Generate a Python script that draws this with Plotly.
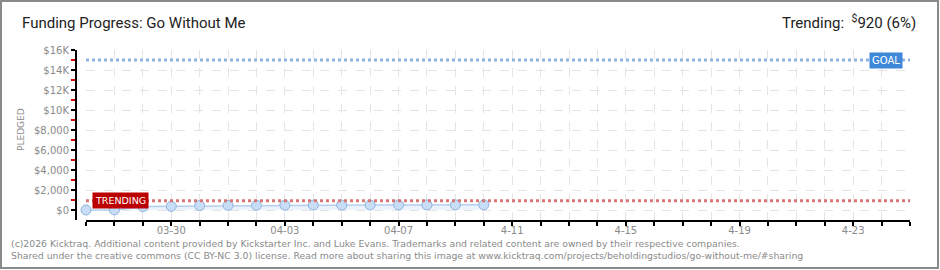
import plotly.graph_objects as go
from datetime import date, timedelta

# ---- data ----
dates = ["2026-03-27", "2026-03-28", "2026-03-29", "2026-03-30", "2026-03-31",
         "2026-04-01", "2026-04-02", "2026-04-03", "2026-04-04", "2026-04-05",
         "2026-04-06", "2026-04-07", "2026-04-08", "2026-04-09", "2026-04-10"]
pledged = [0, 10, 340, 360, 450, 460, 470, 480, 490, 495, 500, 505, 510, 515, 520]
goal = 15000
trending = 920
y_tickvals = [0, 2000, 4000, 6000, 8000, 10000, 12000, 14000, 16000]
y_ticktext = ["$0", "$2,000", "$4,000", "$6,000", "$8,000", "$10K", "$12K", "$14K", "$16K"]
y_minor = [1000, 3000, 5000, 7000, 9000, 11000, 13000, 15000]
x_start = "2026-03-27"
x_end = "2026-04-25"
x_labels = {"2026-03-30": "03-30", "2026-04-03": "04-03", "2026-04-07": "04-07",
            "2026-04-11": "4-11", "2026-04-15": "4-15", "2026-04-19": "4-19",
            "2026-04-23": "4-23"}

# all day ticks
d0 = date(2026, 3, 27)
d1 = date(2026, 4, 25)
all_days = []
d = d0
while d <= d1:
    all_days.append(d.isoformat())
    d += timedelta(days=1)
x_ticktext = [x_labels.get(s, "") for s in all_days]

W, H = 940, 270
L, R, T, B = 70, 30, 50, 50
PW = W - L - R
PH = H - T - B
def px(xp):
    return (xp - L) / PW
def py(yp):
    return 1 - (yp - T) / PH

FONT = "DejaVu Sans"
TFONT = "Roboto"
GRAY = "#8a8a8a"

fig = go.Figure()
fig.add_trace(go.Scatter(
    x=dates, y=pledged, mode="lines+markers",
    line=dict(color="#b4d0f0", width=1.5),
    marker=dict(size=10, color="#c8ddf6", line=dict(color="#8fb3dd", width=1)),
    fill="tozeroy", fillcolor="rgba(200,220,245,0.35)",
    hoverinfo="skip", showlegend=False, cliponaxis=False,
))

# goal & trending lines
fig.add_shape(type="line", xref="x", yref="y", x0=x_start, x1=x_end, y0=goal, y1=goal,
              line=dict(color="#8fb3dd", width=3, dash="dot"), layer="above")
fig.add_shape(type="line", xref="x", yref="y", x0=x_start, x1=x_end, y0=trending, y1=trending,
              line=dict(color="#d77777", width=3, dash="dot"), layer="above")

fig.add_annotation(x="2026-04-24 04:00", y=goal, xref="x", yref="y", text="GOAL",
                   showarrow=False, font=dict(family=FONT, size=10, color="white"),
                   bgcolor="#3d88d9", borderpad=2, xanchor="center", yanchor="middle")
fig.add_annotation(x="2026-03-28 05:00", y=trending, xref="x", yref="y", text="TRENDING",
                   showarrow=False, font=dict(family=FONT, size=9.5, color="white"),
                   bgcolor="#bb0000", borderpad=2, xanchor="center", yanchor="middle")

# title texts
fig.add_annotation(x=px(20), y=py(23), xref="paper", yref="paper",
                   text="Funding Progress: Go Without Me", showarrow=False,
                   xanchor="left", yanchor="middle",
                   font=dict(family=TFONT, size=15, color="#222"))
fig.add_annotation(x=px(918), y=py(22), xref="paper", yref="paper",
                   text="Trending:  <sup>$</sup>920 (6%)", showarrow=False,
                   xanchor="right", yanchor="middle",
                   font=dict(family=TFONT, size=15, color="#222"))
fig.add_annotation(x=px(21), y=py(130), xref="paper", yref="paper",
                   text="PLEDGED", showarrow=False, textangle=-90,
                   xanchor="center", yanchor="middle",
                   font=dict(family=FONT, size=9, color=GRAY))
fig.add_annotation(x=px(9), y=py(243), xref="paper", yref="paper",
                   text="(c)2026 Kicktraq. Additional content provided by Kickstarter Inc. and Luke Evans. Trademarks and related content are owned by their respective companies.",
                   showarrow=False, xanchor="left", yanchor="middle",
                   font=dict(family=FONT, size=9.3, color=GRAY))
fig.add_annotation(x=px(9), y=py(256), xref="paper", yref="paper",
                   text="Shared under the creative commons (CC BY-NC 3.0) license. Read more about sharing this image at www.kicktraq.com/projects/beholdingstudios/go-without-me/#sharing",
                   showarrow=False, xanchor="left", yanchor="middle",
                   font=dict(family=FONT, size=9.3, color=GRAY))

# border
fig.add_shape(type="rect", xref="paper", yref="paper",
              x0=px(1), x1=px(938), y0=py(1), y1=py(268),
              line=dict(color="#8a8a8a", width=2), layer="above")

fig.update_layout(
    width=W, height=H, margin=dict(l=L, r=R, t=T, b=B),
    paper_bgcolor="white", plot_bgcolor="white",
    showlegend=False,
    xaxis=dict(
        type="date", domain=[px(86), 1], range=[x_start, x_end],
        tickvals=all_days, ticktext=x_ticktext,
        ticks="outside", ticklen=4, tickcolor="black", tickwidth=1.5,
        ticklabelstandoff=-4,
        showline=True, linecolor="black", linewidth=2,
        showgrid=True, gridcolor="#e4e4e4", griddash="dash", gridwidth=1,
        zeroline=False, tickfont=dict(family=FONT, size=10, color=GRAY),
        anchor="y", fixedrange=True,
    ),
    yaxis=dict(
        range=[-1000, 16000], anchor="free", position=px(76),
        tickvals=y_tickvals, ticktext=y_ticktext,
        ticks="outside", ticklen=4, tickcolor="black", tickwidth=1.5,
        showline=True, linecolor="black", linewidth=2,
        showgrid=True, gridcolor="#e4e4e4", griddash="dash", gridwidth=1,
        zeroline=False, tickfont=dict(family=FONT, size=10, color=GRAY),
        minor=dict(tickvals=y_minor, ticks="outside", ticklen=4, tickcolor="#dd0000",
                   tickwidth=1.5, showgrid=False),
        fixedrange=True,
    ),
)

fig.write_html("out.html")
